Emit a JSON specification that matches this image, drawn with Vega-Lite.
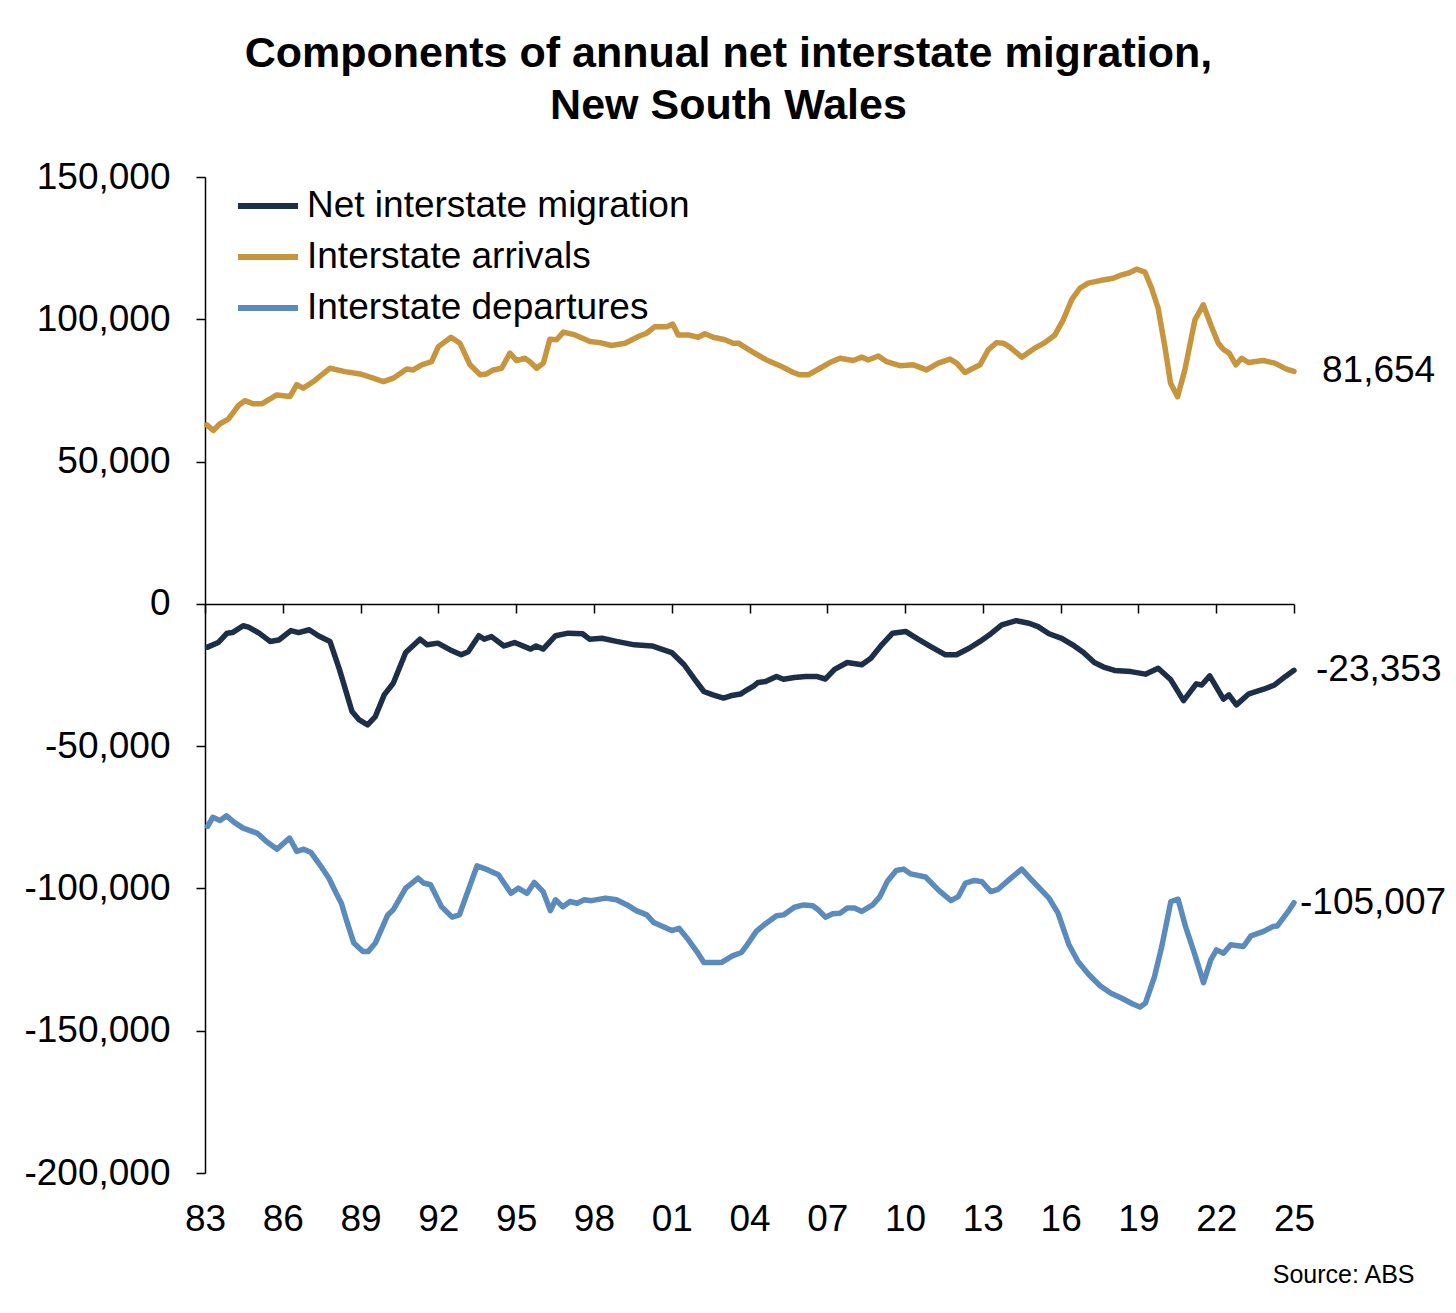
{
  "$schema": "https://vega.github.io/schema/vega-lite/v6.json",
  "width": 1089,
  "height": 996,
  "autosize": {"type": "none"},
  "padding": {"left": 205, "top": 177, "right": 162, "bottom": 140},
  "background": "white",
  "title": {
    "text": ["Components of annual net interstate migration,", "New South Wales"],
    "font": "Liberation Sans",
    "fontSize": 43,
    "fontWeight": "bold",
    "color": "black",
    "anchor": "middle",
    "dx": -21,
    "lineHeight": 52,
    "offset": 30
  },
  "data": {
    "values": [
      {"t": 1983.07, "s": "arr", "v": 62900}, {"t": 1983.32, "s": "arr", "v": 60900}, {"t": 1983.58, "s": "arr", "v": 63300},
      {"t": 1983.90, "s": "arr", "v": 64900}, {"t": 1984.28, "s": "arr", "v": 69600}, {"t": 1984.54, "s": "arr", "v": 71400},
      {"t": 1984.86, "s": "arr", "v": 70300}, {"t": 1985.19, "s": "arr", "v": 70300}, {"t": 1985.77, "s": "arr", "v": 73400},
      {"t": 1986.28, "s": "arr", "v": 72900}, {"t": 1986.54, "s": "arr", "v": 77000}, {"t": 1986.79, "s": "arr", "v": 75800},
      {"t": 1987.24, "s": "arr", "v": 78500}, {"t": 1987.82, "s": "arr", "v": 82800}, {"t": 1988.40, "s": "arr", "v": 81600},
      {"t": 1988.98, "s": "arr", "v": 80800}, {"t": 1989.43, "s": "arr", "v": 79500}, {"t": 1989.88, "s": "arr", "v": 78100},
      {"t": 1990.26, "s": "arr", "v": 79300}, {"t": 1990.78, "s": "arr", "v": 82500}, {"t": 1991.03, "s": "arr", "v": 82200},
      {"t": 1991.36, "s": "arr", "v": 84000}, {"t": 1991.74, "s": "arr", "v": 85100}, {"t": 1992.00, "s": "arr", "v": 90400},
      {"t": 1992.49, "s": "arr", "v": 93700}, {"t": 1992.83, "s": "arr", "v": 91600}, {"t": 1993.22, "s": "arr", "v": 84000},
      {"t": 1993.61, "s": "arr", "v": 80500}, {"t": 1993.86, "s": "arr", "v": 80800}, {"t": 1994.12, "s": "arr", "v": 82200},
      {"t": 1994.44, "s": "arr", "v": 82800}, {"t": 1994.76, "s": "arr", "v": 88100}, {"t": 1995.02, "s": "arr", "v": 85500},
      {"t": 1995.34, "s": "arr", "v": 86300}, {"t": 1995.53, "s": "arr", "v": 85100}, {"t": 1995.79, "s": "arr", "v": 82800},
      {"t": 1996.05, "s": "arr", "v": 84600}, {"t": 1996.30, "s": "arr", "v": 93000}, {"t": 1996.56, "s": "arr", "v": 92800},
      {"t": 1996.82, "s": "arr", "v": 95500}, {"t": 1997.27, "s": "arr", "v": 94500}, {"t": 1997.85, "s": "arr", "v": 92200},
      {"t": 1998.23, "s": "arr", "v": 91800}, {"t": 1998.68, "s": "arr", "v": 90800}, {"t": 1999.20, "s": "arr", "v": 91600},
      {"t": 1999.78, "s": "arr", "v": 94200}, {"t": 2000.03, "s": "arr", "v": 95100}, {"t": 2000.35, "s": "arr", "v": 97400},
      {"t": 2000.81, "s": "arr", "v": 97400}, {"t": 2001.04, "s": "arr", "v": 98300}, {"t": 2001.25, "s": "arr", "v": 94500},
      {"t": 2001.64, "s": "arr", "v": 94500}, {"t": 2002.02, "s": "arr", "v": 93700}, {"t": 2002.28, "s": "arr", "v": 94900},
      {"t": 2002.60, "s": "arr", "v": 93700}, {"t": 2003.05, "s": "arr", "v": 92800}, {"t": 2003.37, "s": "arr", "v": 91600},
      {"t": 2003.57, "s": "arr", "v": 91600}, {"t": 2004.08, "s": "arr", "v": 88700}, {"t": 2004.66, "s": "arr", "v": 85700},
      {"t": 2005.17, "s": "arr", "v": 83700}, {"t": 2005.69, "s": "arr", "v": 81300}, {"t": 2005.95, "s": "arr", "v": 80500},
      {"t": 2006.27, "s": "arr", "v": 80500}, {"t": 2006.72, "s": "arr", "v": 82800}, {"t": 2007.10, "s": "arr", "v": 84800},
      {"t": 2007.49, "s": "arr", "v": 86300}, {"t": 2008.00, "s": "arr", "v": 85500}, {"t": 2008.33, "s": "arr", "v": 86700},
      {"t": 2008.58, "s": "arr", "v": 85700}, {"t": 2008.97, "s": "arr", "v": 87100}, {"t": 2009.29, "s": "arr", "v": 85100},
      {"t": 2009.80, "s": "arr", "v": 83700}, {"t": 2010.32, "s": "arr", "v": 84000}, {"t": 2010.83, "s": "arr", "v": 82200},
      {"t": 2011.28, "s": "arr", "v": 84600}, {"t": 2011.73, "s": "arr", "v": 86000}, {"t": 2011.99, "s": "arr", "v": 84600},
      {"t": 2012.31, "s": "arr", "v": 81300}, {"t": 2012.89, "s": "arr", "v": 84000}, {"t": 2013.21, "s": "arr", "v": 89300},
      {"t": 2013.53, "s": "arr", "v": 91800}, {"t": 2013.79, "s": "arr", "v": 91600}, {"t": 2014.04, "s": "arr", "v": 90200},
      {"t": 2014.50, "s": "arr", "v": 86700}, {"t": 2014.94, "s": "arr", "v": 89500}, {"t": 2015.39, "s": "arr", "v": 91800},
      {"t": 2015.78, "s": "arr", "v": 94500}, {"t": 2016.10, "s": "arr", "v": 99800}, {"t": 2016.42, "s": "arr", "v": 106800},
      {"t": 2016.74, "s": "arr", "v": 110900}, {"t": 2017.06, "s": "arr", "v": 112700}, {"t": 2017.52, "s": "arr", "v": 113600},
      {"t": 2018.03, "s": "arr", "v": 114400}, {"t": 2018.29, "s": "arr", "v": 115400}, {"t": 2018.61, "s": "arr", "v": 116200},
      {"t": 2018.93, "s": "arr", "v": 117600}, {"t": 2019.25, "s": "arr", "v": 116600}, {"t": 2019.51, "s": "arr", "v": 110900},
      {"t": 2019.76, "s": "arr", "v": 103900}, {"t": 2020.02, "s": "arr", "v": 90400}, {"t": 2020.24, "s": "arr", "v": 77500},
      {"t": 2020.51, "s": "arr", "v": 72800}, {"t": 2020.79, "s": "arr", "v": 82200}, {"t": 2021.18, "s": "arr", "v": 99800},
      {"t": 2021.50, "s": "arr", "v": 105100}, {"t": 2021.82, "s": "arr", "v": 97400}, {"t": 2022.08, "s": "arr", "v": 91600},
      {"t": 2022.27, "s": "arr", "v": 89500}, {"t": 2022.50, "s": "arr", "v": 88100}, {"t": 2022.76, "s": "arr", "v": 84000},
      {"t": 2022.98, "s": "arr", "v": 86300}, {"t": 2023.24, "s": "arr", "v": 84800}, {"t": 2023.81, "s": "arr", "v": 85500},
      {"t": 2024.26, "s": "arr", "v": 84600}, {"t": 2024.71, "s": "arr", "v": 82500}, {"t": 2025.00, "s": "arr", "v": 81654},

      {"t": 1983.10, "s": "net", "v": -15200}, {"t": 1983.51, "s": "net", "v": -13600}, {"t": 1983.85, "s": "net", "v": -10300},
      {"t": 1984.06, "s": "net", "v": -10100}, {"t": 1984.47, "s": "net", "v": -7700}, {"t": 1984.68, "s": "net", "v": -8200},
      {"t": 1985.09, "s": "net", "v": -10300}, {"t": 1985.51, "s": "net", "v": -13200}, {"t": 1985.85, "s": "net", "v": -12700},
      {"t": 1986.31, "s": "net", "v": -9400}, {"t": 1986.61, "s": "net", "v": -10100}, {"t": 1987.02, "s": "net", "v": -9100},
      {"t": 1987.37, "s": "net", "v": -11200}, {"t": 1987.82, "s": "net", "v": -13200}, {"t": 1988.19, "s": "net", "v": -23200},
      {"t": 1988.67, "s": "net", "v": -37800}, {"t": 1988.95, "s": "net", "v": -40800}, {"t": 1989.27, "s": "net", "v": -42500},
      {"t": 1989.57, "s": "net", "v": -39600}, {"t": 1989.91, "s": "net", "v": -32000}, {"t": 1990.26, "s": "net", "v": -27900},
      {"t": 1990.74, "s": "net", "v": -17100}, {"t": 1991.29, "s": "net", "v": -12400}, {"t": 1991.57, "s": "net", "v": -14400},
      {"t": 1991.98, "s": "net", "v": -13800}, {"t": 1992.46, "s": "net", "v": -16200}, {"t": 1992.88, "s": "net", "v": -17900},
      {"t": 1993.15, "s": "net", "v": -16800}, {"t": 1993.56, "s": "net", "v": -11200}, {"t": 1993.77, "s": "net", "v": -12400},
      {"t": 1994.05, "s": "net", "v": -11500}, {"t": 1994.53, "s": "net", "v": -14800}, {"t": 1994.94, "s": "net", "v": -13600},
      {"t": 1995.56, "s": "net", "v": -15900}, {"t": 1995.77, "s": "net", "v": -14800}, {"t": 1996.04, "s": "net", "v": -15900},
      {"t": 1996.52, "s": "net", "v": -11200}, {"t": 1997.01, "s": "net", "v": -10300}, {"t": 1997.56, "s": "net", "v": -10500},
      {"t": 1997.83, "s": "net", "v": -12400}, {"t": 1998.31, "s": "net", "v": -12100}, {"t": 1998.87, "s": "net", "v": -13200},
      {"t": 1999.56, "s": "net", "v": -14400}, {"t": 2000.24, "s": "net", "v": -14800}, {"t": 2001.00, "s": "net", "v": -17100},
      {"t": 2001.48, "s": "net", "v": -21400}, {"t": 2001.90, "s": "net", "v": -26700}, {"t": 2002.24, "s": "net", "v": -30800},
      {"t": 2002.59, "s": "net", "v": -32000}, {"t": 2003.00, "s": "net", "v": -33100}, {"t": 2003.27, "s": "net", "v": -32300},
      {"t": 2003.65, "s": "net", "v": -31700}, {"t": 2003.91, "s": "net", "v": -30200}, {"t": 2004.17, "s": "net", "v": -28800},
      {"t": 2004.33, "s": "net", "v": -27600}, {"t": 2004.62, "s": "net", "v": -27300}, {"t": 2005.04, "s": "net", "v": -25500},
      {"t": 2005.31, "s": "net", "v": -26500}, {"t": 2005.73, "s": "net", "v": -25900}, {"t": 2006.16, "s": "net", "v": -25500},
      {"t": 2006.58, "s": "net", "v": -25500}, {"t": 2006.93, "s": "net", "v": -26400}, {"t": 2007.28, "s": "net", "v": -23000},
      {"t": 2007.77, "s": "net", "v": -20600}, {"t": 2008.33, "s": "net", "v": -21400}, {"t": 2008.68, "s": "net", "v": -19100},
      {"t": 2009.10, "s": "net", "v": -14400}, {"t": 2009.52, "s": "net", "v": -10300}, {"t": 2010.02, "s": "net", "v": -9700},
      {"t": 2010.50, "s": "net", "v": -12400}, {"t": 2010.99, "s": "net", "v": -15000}, {"t": 2011.56, "s": "net", "v": -17900},
      {"t": 2011.98, "s": "net", "v": -17900}, {"t": 2012.47, "s": "net", "v": -15600}, {"t": 2012.89, "s": "net", "v": -13200},
      {"t": 2013.31, "s": "net", "v": -10500}, {"t": 2013.73, "s": "net", "v": -7400}, {"t": 2014.29, "s": "net", "v": -5900},
      {"t": 2014.78, "s": "net", "v": -6800}, {"t": 2015.13, "s": "net", "v": -8000}, {"t": 2015.55, "s": "net", "v": -10500},
      {"t": 2016.04, "s": "net", "v": -12100}, {"t": 2016.46, "s": "net", "v": -14400}, {"t": 2016.88, "s": "net", "v": -17100},
      {"t": 2017.30, "s": "net", "v": -20600}, {"t": 2017.66, "s": "net", "v": -22200}, {"t": 2018.08, "s": "net", "v": -23400},
      {"t": 2018.71, "s": "net", "v": -23800}, {"t": 2019.27, "s": "net", "v": -24700}, {"t": 2019.76, "s": "net", "v": -22600},
      {"t": 2020.25, "s": "net", "v": -26700}, {"t": 2020.74, "s": "net", "v": -34000}, {"t": 2021.23, "s": "net", "v": -28100},
      {"t": 2021.44, "s": "net", "v": -28500}, {"t": 2021.75, "s": "net", "v": -25300}, {"t": 2022.28, "s": "net", "v": -33500},
      {"t": 2022.49, "s": "net", "v": -32000}, {"t": 2022.78, "s": "net", "v": -35500}, {"t": 2023.26, "s": "net", "v": -31600},
      {"t": 2023.83, "s": "net", "v": -30000}, {"t": 2024.25, "s": "net", "v": -28500}, {"t": 2024.67, "s": "net", "v": -25500},
      {"t": 2025.00, "s": "net", "v": -23353},

      {"t": 1983.10, "s": "dep", "v": -78200}, {"t": 1983.30, "s": "dep", "v": -75000}, {"t": 1983.58, "s": "dep", "v": -76100},
      {"t": 1983.83, "s": "dep", "v": -74500}, {"t": 1984.13, "s": "dep", "v": -76800}, {"t": 1984.47, "s": "dep", "v": -78800},
      {"t": 1985.02, "s": "dep", "v": -80600}, {"t": 1985.37, "s": "dep", "v": -83500}, {"t": 1985.78, "s": "dep", "v": -86200},
      {"t": 1986.26, "s": "dep", "v": -82300}, {"t": 1986.54, "s": "dep", "v": -87000}, {"t": 1986.81, "s": "dep", "v": -86200},
      {"t": 1987.09, "s": "dep", "v": -87400}, {"t": 1987.43, "s": "dep", "v": -91700}, {"t": 1987.78, "s": "dep", "v": -96400},
      {"t": 1988.06, "s": "dep", "v": -101700}, {"t": 1988.26, "s": "dep", "v": -105200}, {"t": 1988.47, "s": "dep", "v": -111600},
      {"t": 1988.74, "s": "dep", "v": -119200}, {"t": 1989.09, "s": "dep", "v": -122200}, {"t": 1989.29, "s": "dep", "v": -122200},
      {"t": 1989.57, "s": "dep", "v": -119200}, {"t": 1990.05, "s": "dep", "v": -109300}, {"t": 1990.26, "s": "dep", "v": -107500},
      {"t": 1990.74, "s": "dep", "v": -99900}, {"t": 1991.22, "s": "dep", "v": -96400}, {"t": 1991.43, "s": "dep", "v": -98100},
      {"t": 1991.70, "s": "dep", "v": -98700}, {"t": 1992.12, "s": "dep", "v": -106400}, {"t": 1992.53, "s": "dep", "v": -110100},
      {"t": 1992.81, "s": "dep", "v": -109300}, {"t": 1993.49, "s": "dep", "v": -92100}, {"t": 1993.91, "s": "dep", "v": -93500},
      {"t": 1994.32, "s": "dep", "v": -95200}, {"t": 1994.80, "s": "dep", "v": -101700}, {"t": 1995.08, "s": "dep", "v": -99900},
      {"t": 1995.42, "s": "dep", "v": -101700}, {"t": 1995.70, "s": "dep", "v": -97900}, {"t": 1996.04, "s": "dep", "v": -101100},
      {"t": 1996.32, "s": "dep", "v": -107800}, {"t": 1996.52, "s": "dep", "v": -104000}, {"t": 1996.80, "s": "dep", "v": -106400},
      {"t": 1997.08, "s": "dep", "v": -104600}, {"t": 1997.35, "s": "dep", "v": -105200}, {"t": 1997.63, "s": "dep", "v": -104000},
      {"t": 1997.90, "s": "dep", "v": -104300}, {"t": 1998.45, "s": "dep", "v": -103400}, {"t": 1998.87, "s": "dep", "v": -104000},
      {"t": 1999.28, "s": "dep", "v": -105800}, {"t": 1999.63, "s": "dep", "v": -107800}, {"t": 2000.04, "s": "dep", "v": -109300},
      {"t": 2000.31, "s": "dep", "v": -112000}, {"t": 2001.00, "s": "dep", "v": -114800}, {"t": 2001.28, "s": "dep", "v": -114000},
      {"t": 2001.62, "s": "dep", "v": -117800}, {"t": 2001.97, "s": "dep", "v": -122200}, {"t": 2002.24, "s": "dep", "v": -126000},
      {"t": 2002.93, "s": "dep", "v": -126000}, {"t": 2003.34, "s": "dep", "v": -123700}, {"t": 2003.69, "s": "dep", "v": -122500},
      {"t": 2003.91, "s": "dep", "v": -119800}, {"t": 2004.26, "s": "dep", "v": -115100}, {"t": 2004.62, "s": "dep", "v": -112400},
      {"t": 2005.04, "s": "dep", "v": -109600}, {"t": 2005.31, "s": "dep", "v": -109300}, {"t": 2005.73, "s": "dep", "v": -106600},
      {"t": 2006.09, "s": "dep", "v": -105800}, {"t": 2006.44, "s": "dep", "v": -106100}, {"t": 2006.65, "s": "dep", "v": -107500},
      {"t": 2006.93, "s": "dep", "v": -110100}, {"t": 2007.21, "s": "dep", "v": -108900}, {"t": 2007.49, "s": "dep", "v": -108700},
      {"t": 2007.77, "s": "dep", "v": -106900}, {"t": 2008.05, "s": "dep", "v": -106900}, {"t": 2008.33, "s": "dep", "v": -108100},
      {"t": 2008.75, "s": "dep", "v": -105800}, {"t": 2009.03, "s": "dep", "v": -102900}, {"t": 2009.31, "s": "dep", "v": -97600},
      {"t": 2009.66, "s": "dep", "v": -93700}, {"t": 2009.94, "s": "dep", "v": -93200}, {"t": 2010.22, "s": "dep", "v": -94900},
      {"t": 2010.79, "s": "dep", "v": -96000}, {"t": 2011.28, "s": "dep", "v": -100500}, {"t": 2011.77, "s": "dep", "v": -104300},
      {"t": 2012.05, "s": "dep", "v": -102900}, {"t": 2012.33, "s": "dep", "v": -98100}, {"t": 2012.68, "s": "dep", "v": -97200},
      {"t": 2012.96, "s": "dep", "v": -97600}, {"t": 2013.31, "s": "dep", "v": -101100}, {"t": 2013.59, "s": "dep", "v": -100300},
      {"t": 2014.08, "s": "dep", "v": -96400}, {"t": 2014.50, "s": "dep", "v": -93200}, {"t": 2014.85, "s": "dep", "v": -96700},
      {"t": 2015.55, "s": "dep", "v": -103400}, {"t": 2015.90, "s": "dep", "v": -108700}, {"t": 2016.32, "s": "dep", "v": -119800},
      {"t": 2016.67, "s": "dep", "v": -125700}, {"t": 2017.10, "s": "dep", "v": -130400}, {"t": 2017.52, "s": "dep", "v": -134200},
      {"t": 2017.94, "s": "dep", "v": -136800}, {"t": 2018.36, "s": "dep", "v": -138600}, {"t": 2018.78, "s": "dep", "v": -140600},
      {"t": 2019.06, "s": "dep", "v": -141700}, {"t": 2019.27, "s": "dep", "v": -140300}, {"t": 2019.62, "s": "dep", "v": -131000},
      {"t": 2019.90, "s": "dep", "v": -120400}, {"t": 2020.25, "s": "dep", "v": -104600}, {"t": 2020.53, "s": "dep", "v": -103800},
      {"t": 2020.81, "s": "dep", "v": -113200}, {"t": 2021.16, "s": "dep", "v": -122800}, {"t": 2021.51, "s": "dep", "v": -133100},
      {"t": 2021.79, "s": "dep", "v": -125100}, {"t": 2022.01, "s": "dep", "v": -121600}, {"t": 2022.28, "s": "dep", "v": -122800},
      {"t": 2022.56, "s": "dep", "v": -119800}, {"t": 2023.05, "s": "dep", "v": -120400}, {"t": 2023.34, "s": "dep", "v": -116700},
      {"t": 2023.83, "s": "dep", "v": -115100}, {"t": 2024.18, "s": "dep", "v": -113400}, {"t": 2024.36, "s": "dep", "v": -113200},
      {"t": 2024.82, "s": "dep", "v": -107500}, {"t": 2025.00, "s": "dep", "v": -105007}
    ]
  },
  "encoding": {
    "x": {
      "field": "t",
      "type": "quantitative",
      "scale": {"domain": [1983, 2025], "nice": false, "zero": false},
      "axis": {
        "values": [1983, 1986, 1989, 1992, 1995, 1998, 2001, 2004, 2007, 2010, 2013, 2016, 2019, 2022, 2025],
        "labelExpr": "slice(toString(datum.value), 2)",
        "offset": -569,
        "grid": false,
        "domainColor": "black",
        "domainWidth": 1.5,
        "tickColor": "black",
        "tickWidth": 1.5,
        "tickSize": 9,
        "labelPadding": 588,
        "labelFont": "Liberation Sans",
        "labelFontSize": 37,
        "labelColor": "black",
        "labelFlush": false,
        "labelOverlap": false,
        "title": "Source: ABS",
        "titleFont": "Liberation Sans",
        "titleFontSize": 25,
        "titleFontWeight": "normal",
        "titleColor": "black",
        "titleAnchor": null,
        "titleAlign": "right",
        "titleBaseline": "alphabetic",
        "titleX": 1209,
        "titleY": 678
      }
    },
    "y": {
      "field": "v",
      "type": "quantitative",
      "scale": {"domain": [-200000, 150000], "nice": false},
      "axis": {
        "values": [-200000, -150000, -100000, -50000, 0, 50000, 100000, 150000],
        "format": ",.0f",
        "grid": false,
        "title": null,
        "domainColor": "black",
        "domainWidth": 1.5,
        "tickColor": "black",
        "tickWidth": 1.5,
        "tickSize": 9,
        "labelPadding": 26,
        "labelFont": "Liberation Sans",
        "labelFontSize": 37,
        "labelColor": "black"
      }
    }
  },
  "layer": [
    {
      "mark": {"type": "line", "strokeWidth": 5.5, "strokeJoin": "round", "strokeCap": "round"},
      "encoding": {
        "color": {
          "field": "s",
          "type": "nominal",
          "scale": {"domain": ["net", "arr", "dep"], "range": ["#1c2e48", "#c8953f", "#5b8bbd"]},
          "legend": {
            "orient": "none",
            "legendX": 30,
            "legendY": -4,
            "title": null,
            "padding": 0,
            "symbolType": "stroke",
            "symbolSize": 3600,
            "symbolStrokeWidth": 6,
            "labelFont": "Liberation Sans",
            "labelFontSize": 37,
            "labelColor": "black",
            "labelOffset": 6,
            "labelLimit": 0,
            "rowPadding": -12,
            "labelExpr": "datum.label == 'net' ? 'Net interstate migration' : datum.label == 'arr' ? 'Interstate arrivals' : 'Interstate departures'"
          }
        }
      }
    },
    {
      "transform": [{"filter": "datum.t == 2025 && datum.s == 'arr'"}],
      "mark": {"type": "text", "align": "left", "baseline": "middle", "dx": 28, "font": "Liberation Sans", "fontSize": 37, "color": "black"},
      "encoding": {"text": {"field": "v", "type": "quantitative", "format": ","}}
    },
    {
      "transform": [{"filter": "datum.t == 2025 && datum.s == 'net'"}],
      "mark": {"type": "text", "align": "left", "baseline": "middle", "dx": 22, "font": "Liberation Sans", "fontSize": 37, "color": "black"},
      "encoding": {"text": {"field": "v", "type": "quantitative", "format": ","}}
    },
    {
      "transform": [{"filter": "datum.t == 2025 && datum.s == 'dep'"}],
      "mark": {"type": "text", "align": "left", "baseline": "middle", "dx": 6, "font": "Liberation Sans", "fontSize": 37, "color": "black"},
      "encoding": {"text": {"field": "v", "type": "quantitative", "format": ","}}
    }
  ],
  "config": {
    "view": {"stroke": null},
    "font": "Liberation Sans",
    "locale": {
      "number": {"decimal": ".", "thousands": ",", "grouping": [3], "currency": ["$", ""], "minus": "-"}
    }
  }
}
